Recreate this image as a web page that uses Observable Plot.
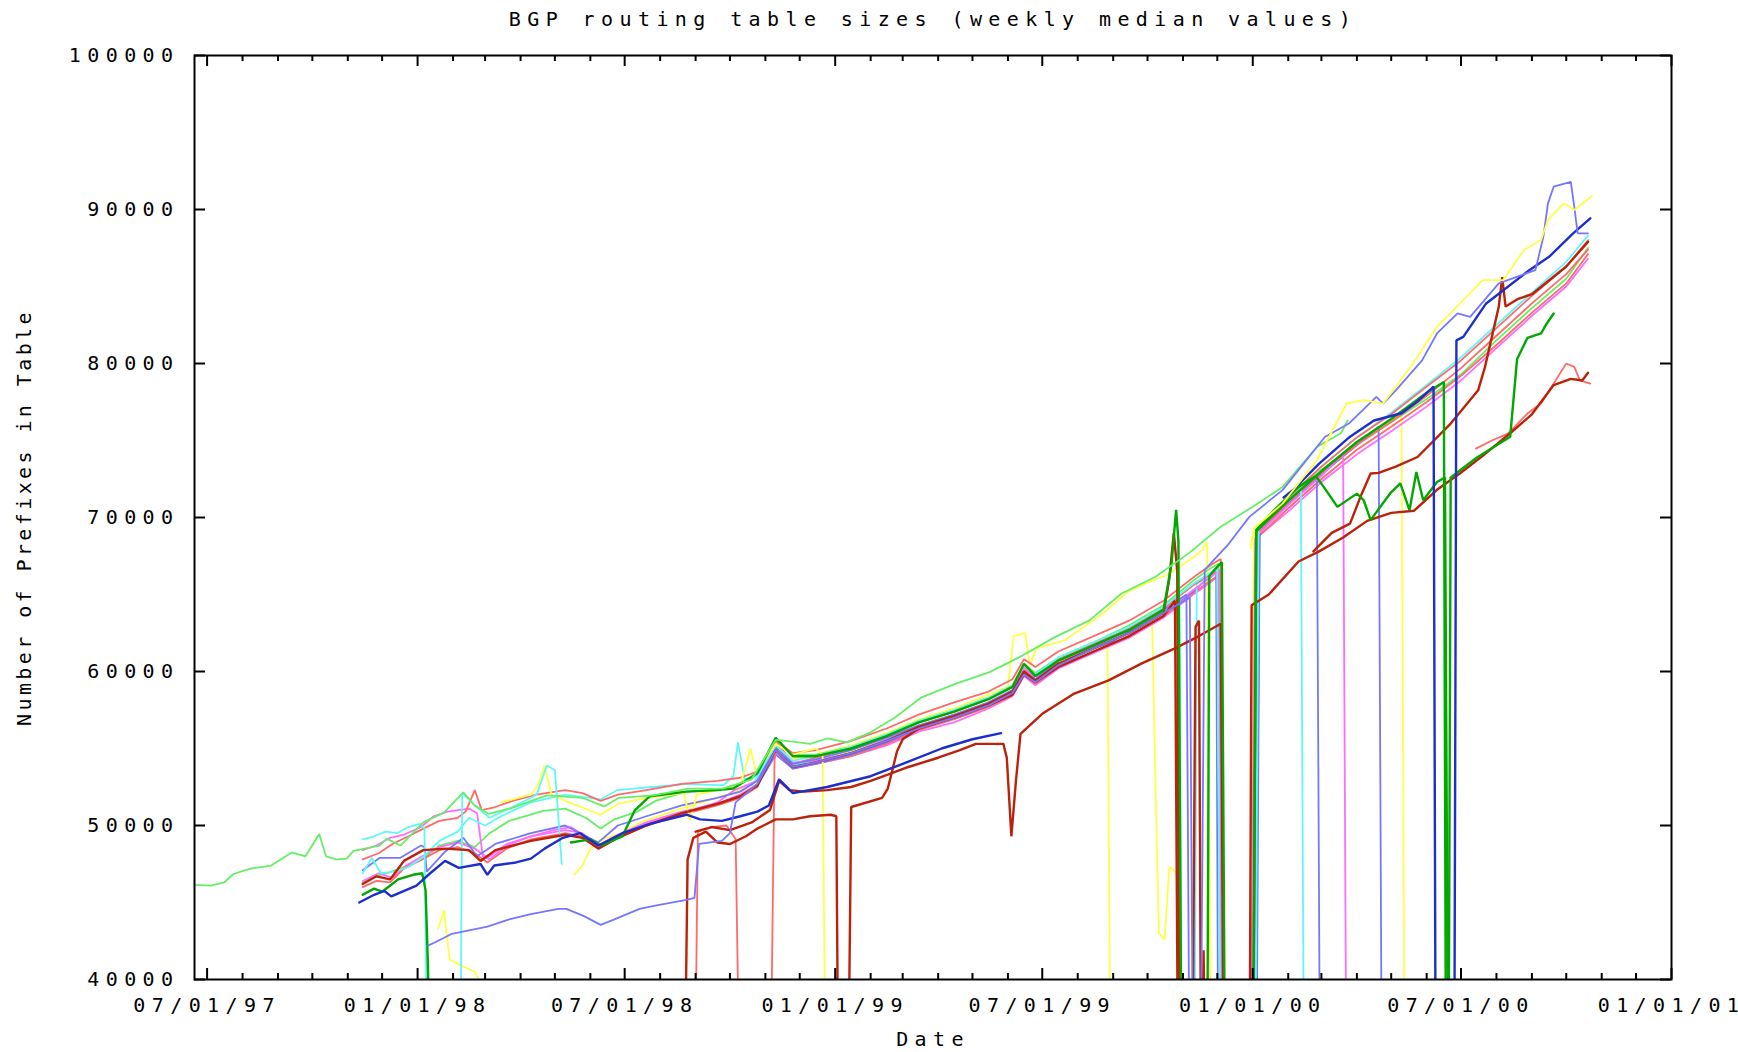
<!DOCTYPE html>
<html><head><meta charset="utf-8">
<script src="https://cdn.jsdelivr.net/npm/d3@7"></script>
<script src="https://cdn.jsdelivr.net/npm/@observablehq/plot@0.6"></script>
<style>
html,body{margin:0;padding:0;background:#fff;}
#chart svg{display:block;}
</style></head>
<body><div id="chart"></div>
<script>
// ---------- text ----------
const titleText = "BGP routing table sizes (weekly median values)";
const xLabelText = "Date";
const yLabelText = "Number of Prefixes in Table";

// ---------- ticks ----------
const xMajorTicks = ["1997-07-01","1998-01-01","1998-07-01","1999-01-01","1999-07-01","2000-01-01","2000-07-01","2001-01-01"];
const xMinorTicks = ["1997-08-01","1997-09-01","1997-10-01","1997-11-01","1997-12-01","1998-02-01","1998-03-01","1998-04-01","1998-05-01","1998-06-01","1998-08-01","1998-09-01","1998-10-01","1998-11-01","1998-12-01","1999-02-01","1999-03-01","1999-04-01","1999-05-01","1999-06-01","1999-08-01","1999-09-01","1999-10-01","1999-11-01","1999-12-01","2000-02-01","2000-03-01","2000-04-01","2000-05-01","2000-06-01","2000-08-01","2000-09-01","2000-10-01","2000-11-01","2000-12-01"];
const yTicks = [40000,50000,60000,70000,80000,90000,100000];
const xDomain = ["1997-06-20","2001-01-01"];
const yDomain = [40000,100000];

// ---------- series (date, prefixes); 30000 = dropped out (below axis) ----------
const LG1 = [["1997-06-20",46150],["1997-07-04",46100],["1997-07-16",46300],["1997-07-24",46850],["1997-08-08",47200],["1997-08-26",47400],["1997-09-13",48250],["1997-09-25",48000],["1997-10-07",49450],["1997-10-13",48000],["1997-10-22",47800],["1997-10-31",47850],["1997-11-06",48350],["1997-11-29",48700],["1997-12-05",49150],["1997-12-17",48700],["1998-01-06",50200],["1998-01-24",50830],["1998-02-10",52150],["1998-02-20",51300],["1998-03-04",50760],["1998-03-24",51130],["1998-04-24",51960],["1998-05-25",51800],["1998-06-13",51240],["1998-06-26",51800],["1998-07-26",51960],["1998-08-26",52400],["1998-09-25",52400],["1998-10-20",53000],["1998-11-10",55560],["1998-11-25",55440],["1998-12-10",55300],["1998-12-25",55650],["1999-01-11",55400],["1999-02-01",56050],["1999-02-22",57000],["1999-03-17",58300],["1999-04-16",59200],["1999-05-16",59960],["1999-06-11",60930],["1999-07-12",62230],["1999-08-11",63300],["1999-09-08",65050],["1999-10-08",66150],["1999-11-06",67670],["1999-12-04",69400],["2000-01-01",70700],["2000-01-27",71980],["2000-02-26",74580],["2000-03-18",75470],["2000-03-24",76300]];

const LG2 = [["1997-11-14",46300],["1997-11-25",46700],["1997-12-05",46900],["1997-12-20",47300],["1998-01-05",47800],["1998-01-20",48700],["1998-02-05",49000],["1998-02-20",48600],["1998-03-05",49500],["1998-03-22",50300],["1998-04-21",50950],["1998-05-10",51100],["1998-05-28",50500],["1998-06-10",49800],["1998-06-22",50400],["1998-07-12",50900],["1998-07-28",51600],["1998-08-24",52200],["1998-09-20",52300],["1998-10-10",52700],["1998-10-25",53300],["1998-11-10",55400],["1998-11-25",54600],["1998-12-15",54600],["1999-01-15",55100],["1999-02-15",55900],["1999-03-15",56800],["1999-04-15",57500],["1999-05-15",58300],["1999-06-05",59100],["1999-06-15",60500],["1999-06-25",59900],["1999-07-15",60900],["1999-08-15",61900],["1999-09-15",63000],["1999-10-15",64300],["1999-11-10",65900],["1999-11-25",66700],["1999-12-02",67000],["1999-12-05",30000],["2000-01-03",30000],["2000-01-06",69300],["2000-02-01",71300],["2000-03-01",73100],["2000-04-01",74800],["2000-05-01",76200],["2000-06-01",77700],["2000-07-01",79300],["2000-08-01",81500],["2000-09-01",83600],["2000-10-01",85500],["2000-10-20",87500]];

const CY1 = [["1997-11-14",49100],["1997-11-24",49300],["1997-12-04",49600],["1997-12-14",49500],["1997-12-24",49900],["1998-01-03",50100],["1998-01-07",49800],["1998-01-10",30000]];

const CY2 = [["1997-11-14",46900],["1997-11-22",47900],["1997-11-30",46900],["1997-12-12",47000],["1997-12-24",47300],["1998-01-05",47900],["1998-01-20",49000],["1998-02-05",49600],["1998-02-15",50500],["1998-03-01",50000],["1998-03-15",50600],["1998-04-10",51500],["1998-05-10",52000],["1998-06-10",51700],["1998-06-25",52300],["1998-07-25",52500],["1998-08-25",52700],["1998-09-25",52600],["1998-10-04",53200],["1998-10-08",55400],["1998-10-14",53000],["1998-10-25",53200],["1998-11-10",55200],["1998-11-25",54200],["1998-12-15",54500],["1999-01-15",55100],["1999-02-15",55900],["1999-03-15",56800],["1999-04-15",57500],["1999-05-15",58300],["1999-06-05",59100],["1999-06-15",60400],["1999-06-25",59800],["1999-07-15",60900],["1999-08-15",61900],["1999-09-15",62900],["1999-10-15",64200],["1999-11-10",65700],["1999-11-25",66400],["1999-12-01",66700],["1999-12-04",30000],["2000-01-03",30000],["2000-01-06",69200],["2000-02-01",71200],["2000-02-12",72300],["2000-02-15",30000]];

const CY3 = [["1998-02-07",30000],["1998-02-09",52100],["1998-02-20",51300],["1998-03-05",50500],["1998-03-25",51200],["1998-04-15",52000],["1998-04-24",53900],["1998-05-01",53600],["1998-05-07",47500]];

const CY5 = [["1998-10-20",52600],["1998-11-10",54800],["1998-11-25",53900],["1998-12-15",54200],["1999-01-15",54700],["1999-02-15",55500],["1999-03-15",56400],["1999-04-15",57100],["1999-05-15",57900],["1999-06-05",58700],["1999-06-15",60000],["1999-06-25",59400],["1999-07-15",60500],["1999-08-15",61500],["1999-09-15",62500],["1999-10-15",63900],["1999-10-29",64600],["1999-10-31",30000],["1999-11-11",30000],["1999-11-13",65700],["1999-11-25",66200],["1999-12-01",66500],["1999-12-04",30000],["2000-01-02",30000],["2000-01-05",69100],["2000-02-01",71300],["2000-03-01",73300],["2000-04-01",75200],["2000-05-01",76800],["2000-06-01",78600],["2000-07-01",80400],["2000-08-01",82500],["2000-09-01",84600],["2000-10-01",86600],["2000-10-20",88300]];

const MG1 = [["1997-11-14",48400],["1997-11-26",48700],["1997-12-08",49200],["1997-12-20",49400],["1998-01-04",49900],["1998-01-15",50600],["1998-01-27",50900],["1998-02-15",51100],["1998-02-22",50800],["1998-02-27",48000],["1998-03-05",47800],["1998-03-20",48700],["1998-04-10",49300],["1998-05-10",49700],["1998-05-25",49500],["1998-06-08",48600],["1998-06-25",49300],["1998-07-15",50000],["1998-08-10",50600],["1998-08-25",50900],["1998-09-20",51500],["1998-10-05",52300],["1998-10-25",52900],["1998-11-10",55300],["1998-11-25",54100],["1998-12-15",54200],["1999-01-15",54700],["1999-02-15",55600],["1999-03-15",56400],["1999-04-15",57200],["1999-05-15",57900],["1999-06-05",58700],["1999-06-15",60300],["1999-06-25",59500],["1999-07-15",60500],["1999-08-15",61600],["1999-09-15",62500],["1999-10-15",63800],["1999-11-10",65300],["1999-11-25",66100],["1999-12-03",66600],["1999-12-06",30000],["2000-01-01",30000],["2000-01-04",68800],["2000-02-01",70800],["2000-03-01",72700],["2000-03-20",74200],["2000-03-23",30000]];

const MG2 = [["1997-11-14",46400],["1997-11-28",46900],["1997-12-10",46600],["1997-12-22",47400],["1998-01-05",48000],["1998-01-20",48600],["1998-02-05",48900],["1998-02-20",48500],["1998-03-03",47900],["1998-03-20",48800],["1998-04-10",49300],["1998-04-30",49700],["1998-05-15",49900],["1998-06-08",48700],["1998-06-25",49400],["1998-07-20",50200],["1998-08-20",50900],["1998-09-20",51400],["1998-10-10",52000],["1998-10-25",52700],["1998-11-10",54700],["1998-11-25",53700],["1998-12-15",54000],["1999-01-15",54500],["1999-02-15",55200],["1999-03-15",56100],["1999-04-15",56700],["1999-05-15",57600],["1999-06-05",58400],["1999-06-15",59700],["1999-06-25",59100],["1999-07-15",60200],["1999-08-15",61200],["1999-09-15",62200],["1999-10-15",63500],["1999-11-10",65000],["1999-11-25",65800],["1999-12-02",66200],["1999-12-05",30000],["1999-12-30",30000],["2000-01-03",68600],["2000-02-01",70400],["2000-03-01",72300],["2000-04-01",74100],["2000-05-01",75600],["2000-06-01",77200],["2000-07-01",78900],["2000-08-01",81000],["2000-09-01",83100],["2000-10-01",85000],["2000-10-20",86800]];

const LR1 = [["1997-11-14",47800],["1997-11-28",48200],["1997-12-10",48800],["1997-12-24",49300],["1998-01-06",49800],["1998-01-20",50300],["1998-02-05",50500],["1998-02-12",50900],["1998-02-20",52300],["1998-02-26",51000],["1998-03-10",51200],["1998-03-25",51600],["1998-04-15",52000],["1998-05-10",52300],["1998-05-25",52100],["1998-06-10",51600],["1998-06-25",52000],["1998-07-20",52300],["1998-08-20",52700],["1998-09-20",52900],["1998-10-10",53100],["1998-10-25",53500],["1998-11-10",55500],["1998-11-25",54700],["1998-12-15",54900],["1999-01-15",55500],["1999-02-15",56300],["1999-03-15",57200],["1999-04-15",58000],["1999-05-15",58700],["1999-06-05",59500],["1999-06-15",60800],["1999-06-25",60300],["1999-07-15",61300],["1999-08-15",62300],["1999-09-15",63300],["1999-10-15",64600],["1999-11-10",66100],["1999-11-25",66900],["1999-12-04",67300],["1999-12-07",30000],["2000-01-01",30000],["2000-01-04",69100],["2000-02-01",71300],["2000-03-01",73300],["2000-04-01",75200],["2000-05-01",76700],["2000-06-01",78500],["2000-07-01",80200],["2000-08-01",82300],["2000-09-01",84400],["2000-10-01",86300],["2000-10-20",88000]];

const LR2 = [["1998-08-31",30000],["1998-09-03",49600],["1998-09-15",49900],["1998-09-28",50000],["1998-10-06",49100],["1998-10-10",30000],["1998-11-05",30000],["1998-11-09",54300],["1998-11-12",55300],["1998-11-25",54000],["1998-12-15",54400],["1999-01-15",55000],["1999-02-15",55800],["1999-03-15",56700],["1999-04-15",57400],["1999-05-15",58200],["1999-06-05",59000],["1999-06-15",60100],["1999-06-25",59700],["1999-07-15",60800],["1999-08-15",61800],["1999-09-15",62800],["1999-10-15",64100],["1999-11-10",65600],["1999-11-25",66300],["1999-12-02",66500],["1999-12-08",30000],["2000-01-02",30000],["2000-01-05",69000],["2000-02-01",71000],["2000-03-01",72900],["2000-04-01",74700],["2000-05-01",76200],["2000-06-01",77900],["2000-07-01",79700],["2000-08-01",81800],["2000-09-01",83900],["2000-10-01",85800],["2000-10-20",87400]];

const LR3 = [["2000-07-14",74470],["2000-07-28",75000],["2000-08-11",75450],["2000-08-28",76750],["2000-09-09",77400],["2000-09-20",78700],["2000-10-01",80000],["2000-10-08",79780],["2000-10-13",78910],["2000-10-22",78700]];

const LR4 = [["1997-11-14",46000],["1997-11-26",46400],["1997-12-08",46300],["1997-12-20",47200],["1998-01-05",47800],["1998-01-20",48400],["1998-02-05",48600],["1998-02-20",48200],["1998-03-03",47600],["1998-03-20",48500],["1998-04-10",49100],["1998-05-10",49500],["1998-05-25",49300],["1998-06-08",48500],["1998-06-25",49200],["1998-07-20",50000],["1998-08-20",50700],["1998-09-20",51300],["1998-10-10",51800],["1998-10-25",52500],["1998-11-10",55300],["1998-11-25",53900],["1998-12-15",54000],["1999-01-15",54500],["1999-02-15",55300],["1999-03-15",56200],["1999-04-15",56900],["1999-05-15",57700],["1999-06-05",58500],["1999-06-15",59800],["1999-06-25",59200],["1999-07-15",60300],["1999-08-15",61300],["1999-09-15",62300],["1999-10-15",63600],["1999-11-10",65100],["1999-11-25",65900],["1999-12-03",66300],["1999-12-06",30000],["2000-01-02",30000],["2000-01-05",68700],["2000-02-01",70600],["2000-03-01",72500],["2000-04-01",74400],["2000-05-01",75900],["2000-06-01",77500],["2000-07-01",79200],["2000-08-01",81200],["2000-09-01",83300],["2000-10-01",85200],["2000-10-20",87100]];

const YL1 = [["1998-01-19",43300],["1998-01-24",44500],["1998-01-29",41300],["1998-02-08",40900],["1998-02-20",40500],["1998-03-02",39000]];

const YL2 = [["1998-03-15",51500],["1998-04-10",52000],["1998-04-16",52600],["1998-04-22",53900],["1998-04-28",52000],["1998-05-10",51600],["1998-06-10",50700],["1998-06-25",51400],["1998-07-20",51800],["1998-08-22",52100],["1998-08-27",50300],["1998-09-02",52000],["1998-10-10",52600],["1998-10-19",55000],["1998-10-24",53400],["1998-11-10",55300],["1998-11-25",54600],["1998-12-15",55000],["1998-12-21",54600],["1998-12-24",30000]];

const YL3 = [["1998-05-18",46800],["1998-05-25",47400],["1998-06-01",48500],["1998-06-10",49100],["1998-06-25",49400],["1998-07-15",50200],["1998-08-15",51000],["1998-09-15",51700],["1998-10-10",52300],["1998-10-25",53000],["1998-11-10",55100],["1998-11-25",54300],["1998-12-15",54600],["1999-01-15",55200],["1999-02-15",56000],["1999-03-15",56900],["1999-04-15",57600],["1999-05-15",58500],["1999-06-01",59000],["1999-06-06",62300],["1999-06-16",62500],["1999-06-20",60400],["1999-06-26",61500],["1999-07-20",62000],["1999-08-22",63700],["1999-09-14",65200],["1999-10-05",65900],["1999-10-19",66300],["1999-11-10",67400],["1999-11-18",67900],["1999-11-22",68400],["1999-11-26",30000]];

const YL4 = [["1998-10-25",52800],["1998-11-10",54900],["1998-11-25",53800],["1998-12-15",54200],["1999-01-15",54800],["1999-02-15",55600],["1999-03-15",56500],["1999-04-15",57200],["1999-05-15",58000],["1999-06-05",58800],["1999-06-15",60100],["1999-06-25",59500],["1999-07-15",60600],["1999-08-15",61600],["1999-08-27",62000],["1999-08-30",30000],["1999-12-30",30000],["2000-01-02",69000],["2000-02-01",71000],["2000-03-01",72900],["2000-04-01",74800],["2000-05-01",76300],["2000-05-10",76800],["2000-05-13",30000]];

const YL5 = [["1999-01-20",55100],["1999-02-15",55800],["1999-03-15",56700],["1999-04-15",57400],["1999-05-15",58200],["1999-06-05",59000],["1999-06-15",60300],["1999-06-25",59700],["1999-07-15",60800],["1999-08-15",61800],["1999-09-15",62800],["1999-10-05",63500],["1999-10-08",52500],["1999-10-11",43000],["1999-10-16",42600],["1999-10-20",47300],["1999-10-26",47000],["1999-10-29",44000],["1999-10-31",30000]];

const YL6 = [["1999-12-30",68000],["2000-01-02",69300],["2000-01-27",70900],["2000-02-26",73720],["2000-03-23",77400],["2000-04-07",77620],["2000-04-24",77400],["2000-05-18",79780],["2000-06-10",82380],["2000-07-20",85420],["2000-08-07",85420],["2000-08-25",87370],["2000-09-09",88020],["2000-09-15",89320],["2000-09-29",90400],["2000-10-08",89970],["2000-10-23",90840]];

const LB1 = [["1997-11-14",47100],["1997-11-29",47900],["1997-12-17",47900],["1998-01-04",48700],["1998-01-07",48600],["1998-01-09",47000],["1998-01-25",48300],["1998-02-10",49200],["1998-02-22",48000],["1998-03-10",48800],["1998-04-10",49500],["1998-05-10",50000],["1998-06-08",48900],["1998-06-25",50000],["1998-07-20",50600],["1998-08-20",51300],["1998-09-20",51800],["1998-10-10",52200],["1998-10-25",52900],["1998-11-10",55100],["1998-11-25",54000],["1998-12-15",54300],["1999-01-15",54900],["1999-02-15",55700],["1999-03-15",56500],["1999-04-15",57200],["1999-05-15",58000],["1999-06-05",58800],["1999-06-15",60000],["1999-06-25",59500],["1999-07-15",60700],["1999-08-15",61700],["1999-09-15",62700],["1999-10-15",64000],["1999-11-04",65000],["1999-11-07",30000]];

const LB2 = [["1998-01-10",42200],["1998-01-16",42400],["1998-01-31",42970],["1998-03-03",43430],["1998-03-22",43900],["1998-04-10",44250],["1998-05-04",44590],["1998-05-11",44590],["1998-05-26",44130],["1998-06-10",43550],["1998-06-22",43900],["1998-07-14",44590],["1998-07-30",44830],["1998-08-24",45170],["1998-08-31",45300],["1998-09-04",48800],["1998-09-24",49000],["1998-10-01",49500],["1998-10-06",51500],["1998-10-25",52700],["1998-11-10",54900],["1998-11-25",53800],["1998-12-15",54100],["1999-01-15",54700],["1999-02-15",55500],["1999-03-15",56300],["1999-04-15",57000],["1999-05-15",57800],["1999-06-05",58600],["1999-06-15",59800],["1999-06-25",59300],["1999-07-15",60400],["1999-08-15",61500],["1999-09-15",62500],["1999-10-15",63800],["1999-11-07",64800],["1999-11-10",30000],["1999-11-16",30000],["1999-11-20",66600],["1999-11-25",67000],["1999-12-10",68200],["1999-12-29",70040],["2000-01-14",71000],["2000-01-27",71780],["2000-03-04",75230],["2000-03-25",76100],["2000-04-18",77830],["2000-04-24",77400],["2000-05-05",78260],["2000-05-28",80200],["2000-06-10",81950],["2000-06-28",83250],["2000-07-09",83030],["2000-08-03",85200],["2000-09-04",86060],["2000-09-11",88220],["2000-09-15",90400],["2000-09-20",91480],["2000-10-05",91800],["2000-10-08",90180],["2000-10-11",88450],["2000-10-20",88450]];

const LB3 = [["1998-10-25",52600],["1998-11-10",54600],["1998-11-25",53700],["1998-12-15",54000],["1999-01-15",54600],["1999-02-15",55400],["1999-03-15",56300],["1999-04-15",57000],["1999-05-15",57800],["1999-06-05",58700],["1999-06-15",59900],["1999-06-25",59300],["1999-07-15",60500],["1999-08-15",61500],["1999-08-30",61900],["1999-09-15",62600],["1999-10-15",63800],["1999-11-10",65200],["1999-11-25",66200],["1999-11-30",66500],["1999-12-02",30000],["2000-01-04",30000],["2000-01-07",69000],["2000-02-01",70900],["2000-02-26",72600],["2000-02-29",30000]];

const LB4 = [["2000-01-03",30000],["2000-01-07",69100],["2000-02-01",71000],["2000-03-01",72800],["2000-04-01",74700],["2000-04-20",75900],["2000-04-23",30000]];

const DB1 = [["1997-11-11",45000],["1997-11-24",45500],["1997-12-03",45750],["1997-12-09",45400],["1997-12-31",46100],["1998-01-12",46900],["1998-01-25",47700],["1998-02-06",47250],["1998-02-25",47500],["1998-03-03",46800],["1998-03-09",47400],["1998-03-28",47600],["1998-04-10",47850],["1998-04-22",48500],["1998-05-08",49200],["1998-05-23",49500],["1998-06-08",48700],["1998-06-29",49500],["1998-07-23",50100],["1998-08-24",50700],["1998-09-05",50400],["1998-09-24",50300],["1998-10-10",50600],["1998-10-25",50900],["1998-11-04",51300],["1998-11-13",53000],["1998-11-25",52100],["1998-12-25",52500],["1999-02-01",53200],["1999-03-01",54000],["1999-04-04",55000],["1999-05-01",55600],["1999-05-26",56000]];

const DB2 = [["2000-01-28",71300],["2000-02-05",71770],["2000-02-28",73500],["2000-03-26",75250],["2000-04-16",76300],["2000-05-10",76770],["2000-05-25",77600],["2000-06-07",78500],["2000-06-09",30000],["2000-06-25",30000],["2000-06-27",81500],["2000-07-03",81730],["2000-07-23",83900],["2000-08-30",86070],["2000-09-16",86930],["2000-10-07",88450],["2000-10-22",89430]];

const DG1 = [["1997-11-14",45500],["1997-11-24",45900],["1997-12-01",45700],["1997-12-15",46500],["1997-12-28",46800],["1998-01-05",46900],["1998-01-08",45800],["1998-01-10",41000],["1998-01-13",30000]];

const DG2 = [["1998-05-15",48900],["1998-06-01",49100],["1998-06-10",48700],["1998-06-29",49300],["1998-07-10",51000],["1998-07-23",51900],["1998-08-24",52200],["1998-09-20",52300],["1998-10-04",52400],["1998-10-25",53400],["1998-11-10",55700],["1998-11-25",54500],["1998-12-15",54500],["1999-01-15",55000],["1999-02-15",55800],["1999-03-15",56700],["1999-04-15",57400],["1999-05-15",58200],["1999-06-05",59000],["1999-06-15",60500],["1999-06-25",59700],["1999-07-15",60700],["1999-08-15",61700],["1999-09-15",62700],["1999-10-15",64000],["1999-10-22",67000],["1999-10-26",70500],["1999-10-28",68500],["1999-10-31",30000],["1999-11-22",30000],["1999-11-24",66200],["1999-12-01",66800],["1999-12-05",67100],["1999-12-08",30000],["2000-01-01",30000],["2000-01-04",69100],["2000-02-01",71100],["2000-03-01",73000],["2000-04-01",74900],["2000-05-01",76400],["2000-06-01",78100],["2000-06-16",78800],["2000-06-18",30000],["2000-06-20",30000],["2000-06-22",72600],["2000-07-15",73900],["2000-08-13",75240],["2000-08-19",80270],["2000-08-28",81660],["2000-09-09",81950],["2000-09-14",82600],["2000-09-20",83250]];

const DG3 = [["2000-01-01",30000],["2000-01-04",69200],["2000-01-20",70500],["2000-02-10",72000],["2000-02-25",72700],["2000-03-03",71990],["2000-03-15",70690],["2000-04-01",71550],["2000-04-07",71120],["2000-04-13",69830],["2000-04-30",71560],["2000-05-09",72210],["2000-05-17",70480],["2000-05-23",72960],["2000-05-29",71120],["2000-06-10",72300],["2000-06-17",72600],["2000-06-20",30000]];

const DR1 = [["1997-11-14",46200],["1997-11-26",46700],["1997-12-08",46500],["1997-12-20",47700],["1998-01-06",48400],["1998-01-25",48500],["1998-02-15",48400],["1998-02-25",47700],["1998-03-10",48400],["1998-04-10",49000],["1998-05-10",49400],["1998-05-25",49200],["1998-06-08",48500],["1998-06-25",49200],["1998-07-20",50000],["1998-08-20",50800],["1998-09-20",51400],["1998-10-10",51900],["1998-10-25",52600],["1998-11-10",54900],["1998-11-25",53800],["1998-12-15",54100],["1999-01-15",54700],["1999-02-15",55500],["1999-03-15",56400],["1999-04-15",57100],["1999-05-15",57900],["1999-06-05",58700],["1999-06-15",60000],["1999-06-25",59400],["1999-07-15",60500],["1999-08-15",61500],["1999-09-15",62500],["1999-10-15",63800],["1999-10-20",66000],["1999-10-24",69000],["1999-10-27",66500],["1999-10-29",30000],["1999-11-09",30000],["1999-11-12",62900],["1999-11-15",63300],["1999-11-17",30000],["1999-11-19",41900],["1999-11-21",30000]];

const DR2 = [["1998-08-22",30000],["1998-08-25",47800],["1998-08-30",49200],["1998-09-10",49600],["1998-09-20",48900],["1998-10-01",48800],["1998-10-15",49300],["1998-10-25",49800],["1998-11-10",50400],["1998-11-25",50400],["1998-12-10",50600],["1998-12-28",50700],["1999-01-02",50600],["1999-01-04",30000]];

const DR3 = [["1998-09-01",49600],["1998-09-15",49900],["1998-10-01",49700],["1998-10-20",50200],["1998-11-05",51000],["1998-11-13",52900],["1998-11-22",52300],["1998-12-05",52200],["1998-12-25",52300],["1999-01-15",52500],["1999-02-01",52900],["1999-02-16",53300],["1999-03-06",53800],["1999-04-01",54400],["1999-04-20",54900],["1999-05-04",55300],["1999-05-28",55300],["1999-05-31",54400],["1999-06-04",49300],["1999-06-08",52900],["1999-06-12",55950],["1999-07-01",57250],["1999-07-29",58570],["1999-08-28",59420],["1999-09-26",60530],["1999-10-25",61500],["1999-11-15",62300],["1999-12-04",63100],["1999-12-07",30000],["1999-12-29",30000],["1999-12-31",64300],["2000-01-15",65000],["2000-02-10",67140],["2000-02-28",67800],["2000-03-20",68700],["2000-04-10",69780],["2000-05-01",70300],["2000-05-21",70440],["2000-06-10",71800],["2000-06-30",72860],["2000-07-20",74000],["2000-08-15",75600],["2000-09-01",76700],["2000-09-20",78600],["2000-10-05",79000],["2000-10-15",78900],["2000-10-20",79400]];

const DR4 = [["1999-01-12",30000],["1999-01-15",51200],["1999-02-11",51800],["1999-02-16",52400],["1999-02-24",54800],["1999-03-01",55600],["1999-03-15",56300],["1999-04-15",57000],["1999-05-15",57800],["1999-06-05",58500],["1999-06-15",59800],["1999-06-25",59300],["1999-07-15",60300],["1999-08-15",61300],["1999-09-15",62300],["1999-10-15",63600],["1999-10-25",64600],["1999-10-28",30000],["1999-11-01",null],["2000-02-23",67800],["2000-03-10",69000],["2000-03-26",69600],["2000-04-05",71500],["2000-04-13",72860],["2000-04-20",72900],["2000-05-05",73300],["2000-05-24",73930],["2000-06-22",76100],["2000-07-16",78260],["2000-07-22",79780],["2000-07-28",81730],["2000-08-03",83680],["2000-08-06",85600],["2000-08-09",83700],["2000-08-20",84200],["2000-09-01",84500],["2000-10-01",86300],["2000-10-20",87900]];

// ---------- colours ----------
const LGc = "#66ee66", CYc = "#5ff8f8", MGc = "#ff6cff", LRc = "#ff6a6a", YLc = "#ffff48",
      LBc = "#7676ff", DBc = "#1c2ecc", DGc = "#00a800", DRc = "#bb2208";

const series = [
  {d: YL1, c: YLc, w: 1.8}, {d: YL3, c: YLc, w: 1.8}, {d: YL4, c: YLc, w: 1.8}, {d: YL5, c: YLc, w: 1.8},
  {d: LG2, c: LGc, w: 1.8}, {d: MG2, c: MGc, w: 1.8}, {d: LR4, c: LRc, w: 1.8}, {d: LB3, c: LBc, w: 1.8},
  {d: LB4, c: LBc, w: 1.8}, {d: CY5, c: CYc, w: 1.8}, {d: LR2, c: LRc, w: 1.8}, {d: MG1, c: MGc, w: 1.8},
  {d: LB1, c: LBc, w: 1.8}, {d: CY2, c: CYc, w: 1.8}, {d: LR1, c: LRc, w: 1.8}, {d: YL2, c: YLc, w: 1.8},
  {d: CY1, c: CYc, w: 1.8}, {d: CY3, c: CYc, w: 1.8}, {d: LR3, c: LRc, w: 1.8},
  {d: DR1, c: DRc, w: 2.4}, {d: DR2, c: DRc, w: 2.4}, {d: DR3, c: DRc, w: 2.4}, {d: DR4, c: DRc, w: 2.4},
  {d: DG1, c: DGc, w: 2.4}, {d: DG2, c: DGc, w: 2.4}, {d: DG3, c: DGc, w: 2.4},
  {d: DB1, c: DBc, w: 2.4}, {d: DB2, c: DBc, w: 2.4},
  {d: LG1, c: LGc, w: 1.8}, {d: LB2, c: LBc, w: 1.8}, {d: YL6, c: YLc, w: 1.8}
];

const toDate = s => new Date(s + "T00:00:00Z");
const W = 1738, H = 1052, mT = 55, mR = 67, mB = 73, mL = 194;
const frameW = W - mL - mR, frameH = H - mT - mB;
const majorLen = 11, minorLen = 6;

const lineMarks = series.map(s => Plot.line(
  s.d.map(([t, v]) => ({date: toDate(t), value: v})),
  {x: "date", y: "value", stroke: s.c, strokeWidth: s.w, clip: true, strokeLinejoin: "miter"}
));

const majors = xMajorTicks.map(toDate), minors = xMinorTicks.map(toDate);
const fmt = d3.utcFormat("%m/%d/%y");

const chart = Plot.plot({
  width: W, height: H,
  marginTop: mT, marginRight: mR, marginBottom: mB, marginLeft: mL,
  style: {fontFamily: "'DejaVu Sans Mono', monospace", fontSize: "20px", letterSpacing: "6.4px", background: "#fff", color: "#000", overflow: "visible"},
  x: {type: "utc", domain: xDomain.map(toDate)},
  y: {domain: yDomain},
  marks: [
    ...lineMarks,
    Plot.tickX(majors, {x: d => d, insetTop: frameH - majorLen, stroke: "#000", strokeWidth: 2}),
    Plot.tickX(majors, {x: d => d, insetBottom: frameH - majorLen, stroke: "#000", strokeWidth: 2}),
    Plot.tickX(minors, {x: d => d, insetTop: frameH - minorLen, stroke: "#000", strokeWidth: 2}),
    Plot.tickX(minors, {x: d => d, insetBottom: frameH - minorLen, stroke: "#000", strokeWidth: 2}),
    Plot.tickY(yTicks, {y: d => d, insetRight: frameW - majorLen, stroke: "#000", strokeWidth: 2}),
    Plot.tickY(yTicks, {y: d => d, insetLeft: frameW - majorLen, stroke: "#000", strokeWidth: 2}),
    Plot.frame({stroke: "#000", strokeWidth: 2}),
    Plot.axisX(majors, {anchor: "bottom", tickSize: 0, tickPadding: 18, tickFormat: fmt, label: null, fill: "#000"}),
    Plot.axisY(yTicks, {anchor: "left", tickSize: 0, tickPadding: 15, tickFormat: d => String(d), label: null, fill: "#000"}),
    Plot.text([titleText], {frameAnchor: "top", dy: -36, text: d => d, lineAnchor: "middle", textAnchor: "middle", fill: "#000"}),
    Plot.text([xLabelText], {frameAnchor: "bottom", dy: 60, text: d => d, lineAnchor: "middle", textAnchor: "middle", fill: "#000"}),
    Plot.text([yLabelText], {frameAnchor: "left", dx: -170, rotate: -90, text: d => d, lineAnchor: "middle", textAnchor: "middle", fill: "#000"})
  ]
});
d3.select(chart).selectAll("text").filter(function() { return this.textContent === yLabelText; })
  .style("letter-spacing", "3.4px");
document.getElementById("chart").appendChild(chart);
</script>
</body></html>
